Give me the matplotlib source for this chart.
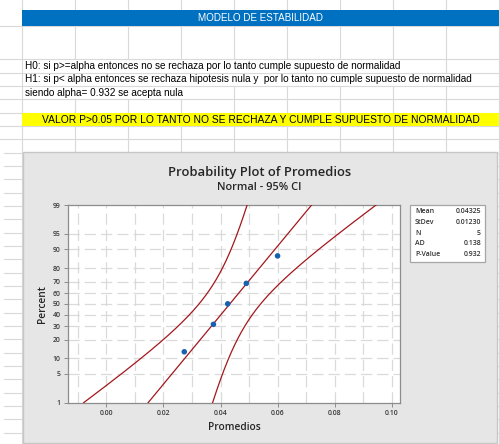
import numpy as np
import matplotlib
matplotlib.use("Agg")
import matplotlib.pyplot as plt
from matplotlib.patches import Rectangle
from statistics import NormalDist

# ---------------- data ----------------
promedios = [0.0273, 0.0375, 0.0425, 0.0490, 0.05995]
stat_labels = ["Mean", "StDev", "N", "AD", "P-Value"]
stat_values = ["0.04325", "0.01230", "5", "0.138", "0.932"]
mean_val = 0.04325
sd_val = 0.01230
n_val = 5
pct_ticks = [1, 5, 10, 20, 30, 40, 50, 60, 70, 80, 90, 95, 99]
x_ticks = [0.00, 0.02, 0.04, 0.06, 0.08, 0.10]
header_text = "MODELO DE ESTABILIDAD"
h0_text = "H0: si p>=alpha entonces no se rechaza por lo tanto cumple supuesto de normalidad"
h1_text = "H1: si p< alpha entonces se rechaza hipotesis nula y  por lo tanto no cumple supuesto de normalidad"
alpha_text = "siendo alpha= 0.932 se acepta nula"
conclusion_text = "VALOR P>0.05 POR LO TANTO NO SE RECHAZA Y CUMPLE SUPUESTO DE NORMALIDAD"

nd = NormalDist()
z = nd.inv_cdf

W, H = 500, 444
fig = plt.figure(figsize=(W / 100, H / 100), dpi=100)
fig.patch.set_facecolor("white")

bg = fig.add_axes([0, 0, 1, 1])
bg.set_xlim(0, W)
bg.set_ylim(H, 0)
bg.axis("off")

grid_c = "#d9d9d9"
xl = "Liberation Sans"

# spreadsheet grid
cols = [22 + 53 * k for k in range(10)]
rows = [26, 59.3] + [59.3 + 13.33 * k for k in range(1, 30)]
for y in rows:
    if y <= 152:
        bg.plot([0, W], [y, y], color=grid_c, lw=0.8, zorder=1)
    else:
        bg.plot([4, 22], [y, y], color=grid_c, lw=0.8, zorder=1)
        bg.plot([497, W], [y, y], color=grid_c, lw=0.8, zorder=1)

hide = {(59.3, 72.6): 407, (72.6, 85.9): 475, (85.9, 99.2): 183}
segs = [(0, 26), (26, 59.3), (59.3, 72.6), (72.6, 85.9), (85.9, 99.2),
        (99.2, 112.5), (112.5, 125.9), (125.9, 139.2), (139.2, 152.5)]
for x in cols:
    for (y0, y1) in segs:
        lim = hide.get((y0, y1))
        if lim is not None and 22 < x < lim:
            continue
        bg.plot([x, x], [y0, y1], color=grid_c, lw=0.8, zorder=1)
bg.plot([22, 22], [152, H], color=grid_c, lw=0.8, zorder=1)
bg.plot([499, 499], [152, H], color=grid_c, lw=0.8, zorder=1)

# header bars
bg.add_patch(Rectangle((22, 10), 477, 16, facecolor="#0070c0", edgecolor="none", zorder=2))
bg.text(260.5, 18.3, header_text, color="white", fontsize=7.1, family=xl,
        ha="center", va="center", zorder=3)
bg.add_patch(Rectangle((22, 112.7), 477, 13.3, facecolor="#ffff00", edgecolor="none", zorder=2))
bg.text(260.5, 119.6, conclusion_text, color="black", fontsize=7.4, family=xl,
        ha="center", va="center", zorder=3)
for t, yc in [(h0_text, 66.2), (h1_text, 79.5), (alpha_text, 92.8)]:
    bg.text(25, yc, t, color="black", fontsize=7.2, family=xl, ha="left", va="center", zorder=3)

# chart box
bg.add_patch(Rectangle((22.5, 152.3), 474.2, 290.4, facecolor="#e6e6e6",
                       edgecolor="#c6c6c6", lw=1, zorder=4))
mf = "Open Sans"
bg.text(259.5, 172, "Probability Plot of Promedios", fontsize=9.4, family=mf,
        fontweight="semibold", color="#262626", ha="center", va="center", zorder=5)
bg.text(259.5, 187.5, "Normal - 95% CI", fontsize=7.9, family=mf,
        fontweight="semibold", color="#262626", ha="center", va="center", zorder=5)

# legend box
bg.add_patch(Rectangle((410, 205), 75, 57, facecolor="white", edgecolor="#a6a6a6",
                       lw=0.9, zorder=5))
for i, (lab, val) in enumerate(zip(stat_labels, stat_values)):
    yy = 211.7 + i * 10.65
    bg.text(415, yy, lab, fontsize=5, family=mf, fontweight="semibold", color="#333333",
            ha="left", va="center", zorder=6)
    bg.text(481, yy, val, fontsize=5, family=mf, fontweight="semibold", color="#333333",
            ha="right", va="center", zorder=6)

# ---------------- probability plot ----------------
left, right, top, bottom = 68.3, 400, 205, 402.7
ax = fig.add_axes([left / W, (H - bottom) / H, (right - left) / W, (bottom - top) / H])
ax.set_zorder(10)
ax.set_facecolor("white")

zlo, zhi = z(0.01), z(0.99)
ax.set_ylim(zlo, zhi)
ax.set_xlim(-0.0133, 0.1028)

ax.set_yticks([z(p / 100) for p in pct_ticks])
ax.set_yticklabels([str(p) for p in pct_ticks])
ax.set_xticks(x_ticks)
ax.set_xticklabels([f"{v:.2f}" for v in x_ticks])
ax.set_xticks(np.arange(-0.01, 0.1001, 0.01), minor=True)
ax.tick_params(axis="both", which="major", labelsize=5, colors="#8c8c8c",
               labelcolor="#3a3a3a", length=3, width=0.7, pad=2.5)
ax.tick_params(axis="x", which="minor", length=0)
for lab in ax.get_xticklabels() + ax.get_yticklabels():
    lab.set_family(mf)
    lab.set_fontweight("semibold")

gkw = dict(color="#dadada", lw=0.9, dashes=(9, 4))
for xv in np.arange(-0.01, 0.1001, 0.01):
    ax.axvline(xv, zorder=0, **gkw)
for p in pct_ticks[1:-1]:
    ax.axhline(z(p / 100), zorder=0, **gkw)

for s in ax.spines.values():
    s.set_color("#8c8c8c")
    s.set_linewidth(0.9)

# fitted line and 95% CI bands
zz = np.linspace(zlo, zhi, 200)
fit = mean_val + zz * sd_val
half = 1.96 * sd_val * np.sqrt(1 / n_val + zz ** 2 / (2 * (n_val - 1)))
red = "#a3171c"
ax.plot(fit, zz, color=red, lw=0.9, zorder=3)
ax.plot(fit - half, zz, color=red, lw=0.9, zorder=3)
ax.plot(fit + half, zz, color=red, lw=0.9, zorder=3)

# data points (median ranks)
xs = sorted(promedios)
ranks = [(i + 1 - 0.3) / (len(xs) + 0.4) for i in range(len(xs))]
ax.scatter(xs, [z(r) for r in ranks], s=16, color="#1660b0", zorder=4, edgecolors="none")

ax.set_xlabel("Promedios", fontsize=7.3, family=mf, fontweight="semibold",
              color="#262626", labelpad=3)
ax.set_ylabel("Percent", fontsize=7.3, family=mf, fontweight="semibold",
              color="#262626", labelpad=3)

fig.savefig("out.png", dpi=100, facecolor="white")
